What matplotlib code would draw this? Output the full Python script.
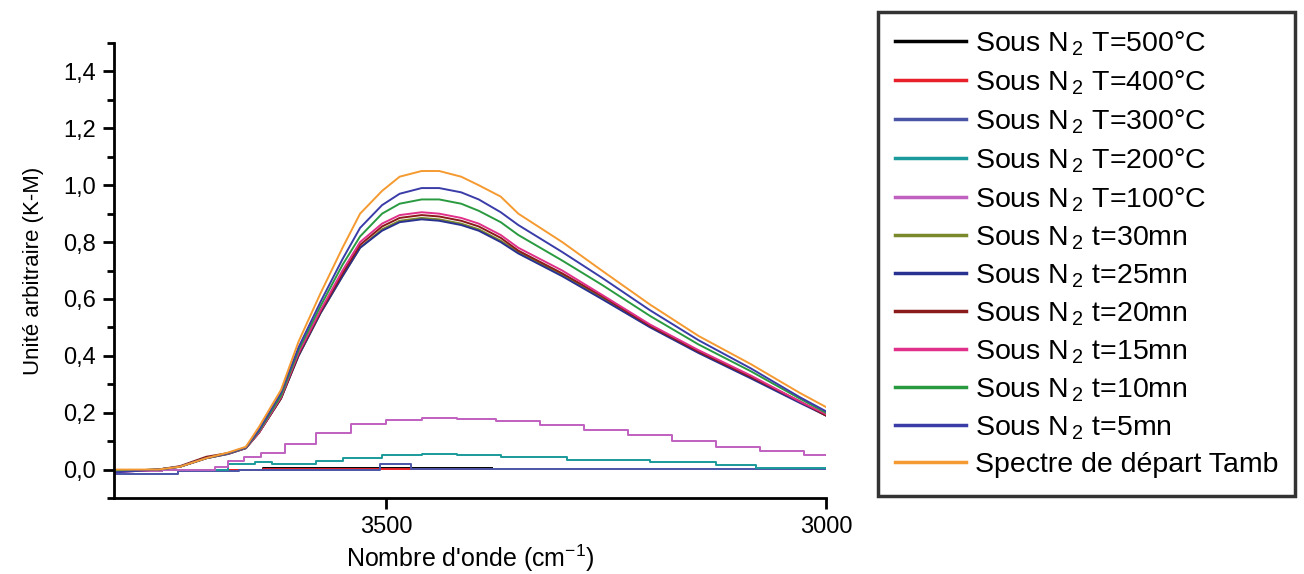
import numpy as np
import matplotlib
matplotlib.use("Agg")
import matplotlib.pyplot as plt
from matplotlib.ticker import MultipleLocator, FuncFormatter

plt.rcParams['font.family'] = ['Liberation Sans', 'DejaVu Sans']
plt.rcParams['mathtext.default'] = 'regular'

# wavenumber grid (cm-1) for the big O-H band
wn = [3810, 3760, 3735, 3705, 3680, 3660, 3645, 3620, 3600, 3575, 3550, 3530, 3505,
      3485, 3460, 3440, 3415, 3395, 3370, 3350, 3300, 3255, 3200, 3145, 3085, 3030, 3000]

tamb = [0.0, 0.0, 0.01, 0.04, 0.06, 0.08, 0.15, 0.28, 0.45, 0.62, 0.78, 0.90, 0.98,
        1.03, 1.05, 1.05, 1.03, 1.00, 0.96, 0.90, 0.80, 0.70, 0.58, 0.47, 0.37, 0.27, 0.22]
t5 = [-0.01, 0.0, 0.01, 0.04, 0.058, 0.078, 0.14, 0.27, 0.43, 0.59, 0.74, 0.85, 0.93,
      0.97, 0.99, 0.99, 0.975, 0.95, 0.905, 0.86, 0.765, 0.675, 0.56, 0.455, 0.355, 0.255, 0.205]
t10 = [-0.005, 0.0, 0.01, 0.04, 0.057, 0.077, 0.135, 0.26, 0.42, 0.575, 0.72, 0.82, 0.90,
       0.935, 0.95, 0.95, 0.935, 0.91, 0.87, 0.825, 0.735, 0.65, 0.54, 0.44, 0.345, 0.25, 0.20]
t15 = [-0.01, 0.0, 0.01, 0.04, 0.056, 0.076, 0.13, 0.255, 0.41, 0.56, 0.70, 0.80, 0.865,
       0.895, 0.905, 0.90, 0.885, 0.865, 0.825, 0.78, 0.70, 0.615, 0.51, 0.42, 0.33, 0.24, 0.195]
t20 = [-0.005, 0.0, 0.012, 0.045, 0.058, 0.076, 0.13, 0.25, 0.405, 0.555, 0.69, 0.79, 0.855,
       0.885, 0.895, 0.89, 0.875, 0.855, 0.815, 0.77, 0.69, 0.61, 0.505, 0.415, 0.325, 0.24, 0.19]
t25 = [-0.005, 0.0, 0.01, 0.04, 0.055, 0.075, 0.13, 0.25, 0.40, 0.55, 0.68, 0.78, 0.84,
       0.87, 0.88, 0.875, 0.86, 0.84, 0.80, 0.76, 0.68, 0.60, 0.50, 0.41, 0.32, 0.235, 0.19]
t30 = [-0.005, 0.0, 0.01, 0.04, 0.055, 0.075, 0.13, 0.25, 0.40, 0.55, 0.68, 0.78, 0.845,
       0.875, 0.885, 0.88, 0.865, 0.845, 0.805, 0.765, 0.685, 0.605, 0.505, 0.415, 0.325, 0.24, 0.19]

# heated samples, much weaker
wn_100 = [3810, 3700, 3690, 3670, 3655, 3630, 3600, 3560, 3520, 3480, 3440, 3400, 3350,
          3300, 3250, 3200, 3150, 3100, 3050, 3000]
T100 = [-0.005, 0.0, 0.01, 0.03, 0.045, 0.06, 0.09, 0.13, 0.16, 0.175, 0.18, 0.178, 0.17,
        0.155, 0.14, 0.12, 0.10, 0.08, 0.065, 0.05]
wn_200 = [3810, 3700, 3660, 3640, 3620, 3590, 3570, 3530, 3480, 3440, 3400, 3340, 3250,
          3150, 3100, 3060, 3000]
T200 = [-0.005, 0.0, 0.02, 0.025, 0.02, 0.02, 0.03, 0.04, 0.05, 0.055, 0.05, 0.045, 0.035,
        0.025, 0.015, 0.005, 0.005]
wn_300 = [3810, 3740, 3735, 3600, 3510, 3505, 3475, 3470, 3000]
T300 = [-0.015, -0.015, -0.005, 0.0, 0.0, 0.018, 0.018, 0.002, 0.002]
wn_400 = [3810, 3700, 3580, 3380]
T400 = [-0.005, 0.0, 0.002, 0.002]
wn_500 = [3810, 3700, 3580, 3380]
T500 = [-0.005, 0.0, 0.005, 0.005]

labels = ["Sous N$_{\\,2}$ T=500°C", "Sous N$_{\\,2}$ T=400°C", "Sous N$_{\\,2}$ T=300°C",
          "Sous N$_{\\,2}$ T=200°C", "Sous N$_{\\,2}$ T=100°C", "Sous N$_{\\,2}$ t=30mn",
          "Sous N$_{\\,2}$ t=25mn", "Sous N$_{\\,2}$ t=20mn", "Sous N$_{\\,2}$ t=15mn",
          "Sous N$_{\\,2}$ t=10mn", "Sous N$_{\\,2}$ t=5mn", "Spectre de départ Tamb"]
colors = ["#000000", "#e8202a", "#4a55a8", "#1a9a9a", "#c060c0", "#7a8a2a",
          "#283090", "#8b1a1a", "#e0308a", "#2a9a40", "#3a3ca8", "#f59a30"]

xs = [wn_500, wn_400, wn_300, wn_200, wn_100, wn, wn, wn, wn, wn, wn, wn]
ys = [T500, T400, T300, T200, T100, t30, t25, t20, t15, t10, t5, tamb]

fig = plt.figure(figsize=(13.04, 5.74), dpi=100)
ax = fig.add_axes([0.0874, 0.1324, 0.546, 0.7926])

for i in range(len(labels)):
    ds = 'steps-mid' if i < 5 else 'default'
    ax.plot(xs[i], ys[i], color=colors[i], lw=1.4, label=labels[i], drawstyle=ds)

ax.set_xlim(3810, 3000)
ax.set_ylim(-0.1, 1.5)
ax.xaxis.set_major_locator(MultipleLocator(500))
ax.yaxis.set_major_locator(MultipleLocator(0.2))
ax.yaxis.set_minor_locator(MultipleLocator(0.1))
ax.yaxis.set_major_formatter(FuncFormatter(lambda v, p: ("%.1f" % v).replace(".", ",")))

for s in ['top', 'right']:
    ax.spines[s].set_visible(False)
for s in ['left', 'bottom']:
    ax.spines[s].set_linewidth(2)
ax.tick_params(axis='both', which='major', length=8, width=2, labelsize=17, pad=5)
ax.tick_params(axis='y', which='minor', length=5, width=2)

ax.set_xlabel("Nombre d'onde (cm$^{-1}$)", fontsize=18, labelpad=3)
ax.set_ylabel("Unité arbitraire (K-M)", fontsize=16, labelpad=14)

leg = fig.legend(loc='upper left', bbox_to_anchor=(878 / 1304, 1 - 12 / 574),
                 fontsize=20.5, handlelength=2.5, handletextpad=0.3,
                 labelspacing=0.37, borderpad=0.6, borderaxespad=0,
                 frameon=True, fancybox=False)
leg.get_frame().set_edgecolor('black')
leg.get_frame().set_linewidth(2.5)
for line in leg.get_lines():
    line.set_linewidth(2.5)

fig.savefig("out.png", dpi=100)
